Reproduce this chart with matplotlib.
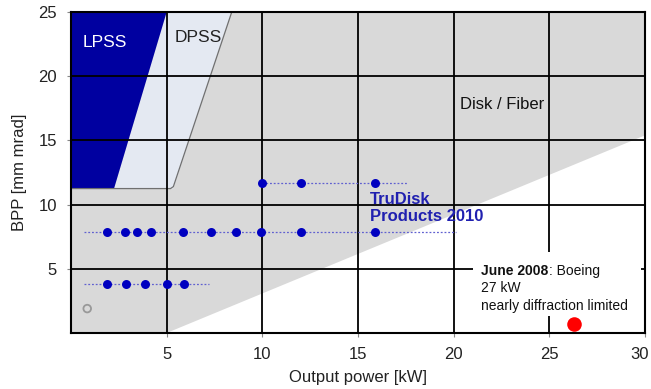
import matplotlib
matplotlib.use("Agg")
import matplotlib.pyplot as plt
from matplotlib.patches import Polygon, Rectangle
from matplotlib.transforms import ScaledTranslation

plt.rcParams['font.family'] = ['Liberation Sans', 'DejaVu Sans']

# Data
row_hi_x = [10.0, 12.0, 15.9]
row_hi_y = 11.7
row_hi_line = [10.0, 17.6]

row_mid_x = [1.9, 2.8, 3.45, 4.2, 5.85, 7.3, 8.6, 9.95, 12.0, 15.9]
row_mid_y = 7.9
row_mid_line = [0.7, 20.1]

row_lo_x = [1.9, 2.9, 3.85, 5.0, 5.9]
row_lo_y = 3.8
row_lo_line = [0.7, 7.2]

hollow_pt = (0.85, 1.9)
boeing_pt = (26.3, 0.7)

lpss_poly = [(0, 25), (5.0, 25), (2.25, 11.25), (0, 11.25)]
dpss_poly = [(5.0, 25), (8.4, 25), (5.35, 11.25), (2.25, 11.25)]
gray_poly = [(0, 0), (5.0, 0), (30, 15.4), (30, 25), (0, 25)]

xticks = [5, 10, 15, 20, 25, 30]
yticks = [5, 10, 15, 20, 25]

fig = plt.figure(figsize=(6.51, 3.89), dpi=100)
ax = fig.add_axes([0.109, 0.144, 0.882, 0.825])
ax.set_xlim(0, 30)
ax.set_ylim(0, 25)

ax.add_patch(Polygon(gray_poly, closed=True, facecolor='#d9d9d9', edgecolor='none', zorder=0))
ax.add_patch(Polygon(dpss_poly, closed=True, facecolor='#e4e9f2', edgecolor='none', zorder=1))
ax.add_patch(Polygon(lpss_poly, closed=True, facecolor='#0000a0', edgecolor='none', zorder=1.1))
ax.plot([0, 5.2, 5.35, 8.4], [11.25, 11.25, 11.4, 25], color='#707070', lw=0.9, zorder=1.2)

ax.set_xticks(xticks)
ax.set_yticks(yticks)
ax.grid(True, color='black', lw=1.3, zorder=2)
ax.set_axisbelow(False)
for s in ax.spines.values():
    s.set_color('black')
    s.set_linewidth(1.5)
    s.set_zorder(5)
ax.tick_params(length=3, color='#888888', labelsize=12, pad=7, labelcolor='#222222')
last = ax.get_xticklabels()[-1]
last.set_transform(last.get_transform() + ScaledTranslation(-4 / 72, 0, fig.dpi_scale_trans))

# dotted lines and points
lc = '#6060d0'
for xs, y, ln in [(row_hi_x, row_hi_y, row_hi_line), (row_mid_x, row_mid_y, row_mid_line), (row_lo_x, row_lo_y, row_lo_line)]:
    ax.plot(ln, [y, y], color=lc, lw=0.9, ls=(0, (1.5, 1.5)), zorder=3)
    ax.scatter(xs, [y] * len(xs), s=42, color='#0000c0', zorder=4, linewidths=0)

ax.scatter([hollow_pt[0]], [hollow_pt[1]], s=30, facecolor='none', edgecolor='#999999', linewidths=1.3, zorder=4)

ax.add_patch(Rectangle((21.0, 1.3), 8.8, 5.0, facecolor='white', edgecolor='none', zorder=2.6))
ax.scatter([boeing_pt[0]], [boeing_pt[1]], s=110, color='#ff0000', zorder=4, linewidths=0)

# texts
ax.text(0.62, 22.6, "LPSS", color='white', fontsize=12.5, va='center', ha='left', zorder=4)
ax.text(5.4, 23.0, "DPSS", color='#222222', fontsize=12.5, va='center', ha='left', zorder=4)
ax.text(20.35, 17.8, "Disk / Fiber", color='#111111', fontsize=12, va='center', ha='left', zorder=4)
ax.text(15.6, 10.4, "TruDisk", color='#2020b0', fontsize=12, fontweight='bold', va='center', ha='left', zorder=4)
ax.text(15.6, 9.05, "Products 2010", color='#2020b0', fontsize=12, fontweight='bold', va='center', ha='left', zorder=4)

bold = ax.text(21.45, 4.52, "June 2008", color='#111111', fontsize=10, fontweight='bold', va='baseline', ha='left', zorder=4)
ax.annotate(": Boeing", xy=(1, 0), xycoords=bold, color='#111111', fontsize=10, va='bottom', ha='left', zorder=4)
ax.text(21.45, 3.19, "27 kW", color='#111111', fontsize=10, va='baseline', ha='left', zorder=4)
ax.text(21.45, 1.79, "nearly diffraction limited", color='#111111', fontsize=10, va='baseline', ha='left', zorder=4)

ax.set_xlabel("Output power [kW]", fontsize=12, labelpad=6, color='#222222')
ax.set_ylabel("BPP [mm mrad]", fontsize=12, labelpad=8, color='#222222')

fig.savefig("out.png", dpi=100)
